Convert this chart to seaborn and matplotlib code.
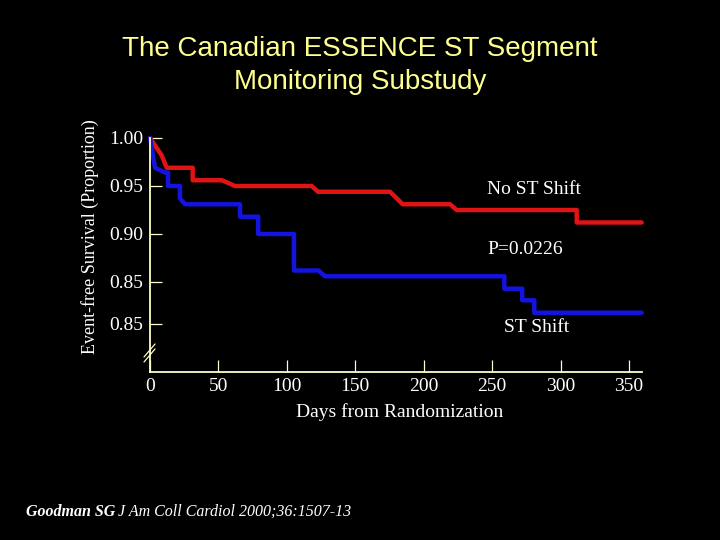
import matplotlib
matplotlib.use("Agg")
import matplotlib.pyplot as plt
import seaborn as sns
import pandas as pd

# ---- data ----
no_shift_days = [0, 8.5, 12.2, 31.2, 31.2, 52.6, 62.1, 118.1, 122.8, 175.4, 184.6,
                 219.2, 224.1, 311.8, 311.8, 359.3]
no_shift_surv = [1.000, 0.982, 0.969, 0.969, 0.956, 0.956, 0.950, 0.950, 0.944, 0.944,
                 0.931, 0.931, 0.925, 0.925, 0.912, 0.912]

shift_days = [0, 3.7, 11, 13.2, 13.2, 21.9, 21.9, 25.6, 65.8, 65.8, 79.1, 79.1, 105.2,
              105.2, 123, 127.9, 258.9, 258.9, 272, 272, 280.8, 280.8, 359.3]
shift_surv = [1.000, 0.969, 0.964, 0.964, 0.950, 0.950, 0.937, 0.931, 0.931, 0.918,
              0.918, 0.900, 0.900, 0.862, 0.862, 0.856, 0.856, 0.843, 0.843, 0.831,
              0.831, 0.818, 0.818]

x_ticks = [0, 50, 100, 150, 200, 250, 300, 350]
y_ticks = [1.00, 0.95, 0.90, 0.85, 0.80625]
y_tick_labels = ["1.00", "0.95", "0.90", "0.85", "0.85"]

title = "The Canadian ESSENCE ST Segment\nMonitoring Substudy"
x_label = "Days from Randomization"
y_label = "Event-free Survival (Proportion)"

RED = "#e01414"
BLUE = "#1414e0"
AXC = "#ffffc8"
TITLEC = "#ffff90"

df = pd.concat([
    pd.DataFrame({"day": no_shift_days, "surv": no_shift_surv, "group": "No ST Shift"}),
    pd.DataFrame({"day": shift_days, "surv": shift_surv, "group": "ST Shift"}),
], ignore_index=True)

sns.set_style("dark", {"axes.facecolor": "black", "figure.facecolor": "black"})
plt.rcParams["font.family"] = ["Liberation Serif", "DejaVu Serif"]

W, H = 720, 540
fig = plt.figure(figsize=(7.2, 5.4), dpi=100, facecolor="black")
ax = fig.add_axes([150 / W, 1 - 372 / H, (642 - 150) / W, (372 - 138) / H])
ax.set_facecolor("black")

sns.lineplot(data=df, x="day", y="surv", hue="group",
             palette={"No ST Shift": RED, "ST Shift": BLUE},
             sort=False, estimator=None, linewidth=3.2, legend=False, ax=ax,
             clip_on=False)

ax.set_xlim(0, 359.5)
ax.set_ylim(0.75625, 1.0)
ax.grid(False)
for s in ["top", "right"]:
    ax.spines[s].set_visible(False)
for s in ["left", "bottom"]:
    ax.spines[s].set_visible(True)
    ax.spines[s].set_color(AXC)
    ax.spines[s].set_linewidth(1.3)

ax.set_xticks(x_ticks)
ax.set_xticklabels([str(t) for t in x_ticks])
ax.set_yticks(y_ticks)
ax.set_yticklabels(y_tick_labels)
ax.tick_params(axis="both", direction="in", length=8.6, width=0.9, color=AXC,
               labelcolor="white", labelsize=14, bottom=True, left=True)
ax.tick_params(axis="y", pad=5)
ax.tick_params(axis="x", pad=4.5)
ax.set_xlabel("")
ax.set_ylabel("")

# axis break marks
for dy in (0, 5):
    fig.add_artist(plt.Line2D([144 / W, 155 / W], [1 - (357 + dy) / H, 1 - (344 + dy) / H],
                              transform=fig.transFigure, color=AXC, linewidth=0.9))

fig.text(360 / W, 1 - 65.5 / H, title, ha="center", va="center", color=TITLEC,
         fontsize=20, family=["Liberation Sans", "DejaVu Sans"], linespacing=1.38)
fig.text(400 / W, 1 - 412 / H, x_label, ha="center", va="center", color="white", fontsize=14)
fig.text(90 / W, 1 - 237 / H, y_label, ha="center", va="center", color="white",
         fontsize=13, rotation=90)

fig.text(487 / W, 1 - 190 / H, "No ST Shift", ha="left", va="center", color="white", fontsize=14)
fig.text(487 / W, 1 - 249 / H, "P=0.0226", ha="left", va="center", color="white", fontsize=14)
fig.text(504 / W, 1 - 327 / H, "ST Shift", ha="left", va="center", color="white", fontsize=14)

fig.text(26 / W, 1 - 512 / H, "Goodman SG", ha="left", va="center", color="white",
         fontsize=11.5, fontweight="bold", fontstyle="italic")
fig.text(118 / W, 1 - 512 / H, "J Am Coll Cardiol 2000;36:1507-13", ha="left", va="center",
         color="white", fontsize=11.5, fontstyle="italic")

fig.savefig("out.png", dpi=100, facecolor="black")
